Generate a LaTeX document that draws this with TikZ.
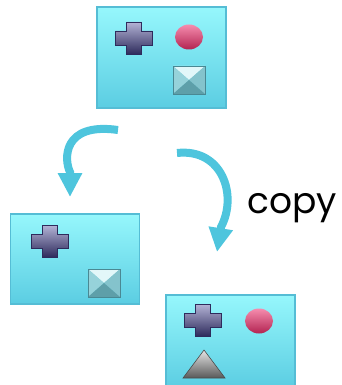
\documentclass[tikz,border=0pt]{standalone}
\usepackage{fontspec}
\setmainfont{Poppins}
\usetikzlibrary{shapes,arrows.meta,backgrounds,positioning}

\definecolor{cardtop}{HTML}{96F7FC}
\definecolor{cardbot}{HTML}{5BCDE2}
\definecolor{cardline}{HTML}{55BDD5}
\definecolor{arrowblue}{HTML}{4EC5DD}
\definecolor{crosslight}{HTML}{B4B4D6}
\definecolor{crossdark}{HTML}{2E2B5C}
\definecolor{ballred}{HTML}{EE2F6C}
\definecolor{tiletop}{HTML}{E2F7F9}
\definecolor{tileleft}{HTML}{96D2DA}
\definecolor{tileright}{HTML}{84C3CC}
\definecolor{tilebot}{HTML}{5E9FA9}
\definecolor{tileline}{HTML}{4A8893}

\tikzset{
  card/.style = {draw=cardline, line width=1.5pt, top color=cardtop, bottom color=cardbot,
                 minimum width=129pt, minimum height=101pt, inner sep=0pt},
  bendarrow/.style = {draw=arrowblue, line width=8pt, -{Triangle[width=23pt,length=24pt]}},
  crossmark/.pic = {
    \shade[top color=crosslight, bottom color=crossdark, draw=crossdark, line width=0.6pt]
      (-7.5,16) -- (7.5,16) -- (7.5,7) -- (18.5,7) -- (18.5,-7) -- (7.5,-7) -- (7.5,-16)
      -- (-7.5,-16) -- (-7.5,-7) -- (-18.5,-7) -- (-18.5,7) -- (-7.5,7) -- cycle;
  },
  ballmark/.pic = {
    \shade[top color=ballred!55!white, middle color=ballred!90!white, bottom color=ballred!75!black]
      (0,0) ellipse [x radius=14, y radius=12.5];
  },
  tilemark/.pic = {
    \fill[tiletop] (-16,14) -- (16,14) -- (0,0) -- cycle;
    \fill[tileleft] (-16,14) -- (0,0) -- (-16,-14) -- cycle;
    \fill[tileright] (16,14) -- (0,0) -- (16,-14) -- cycle;
    \fill[tilebot] (-16,-14) -- (0,0) -- (16,-14) -- cycle;
    \draw[tileline, line width=0.6pt] (-16,-14) rectangle (16,14);
  },
  conemark/.pic = {
    \shade[top color=gray!20, bottom color=gray!70!black, draw=gray!60!black, line width=0.6pt]
      (-21,-14) -- (21,-14) -- (0,14) -- cycle;
  }
}

\begin{document}
\begin{tikzpicture}[x=1pt, y=1pt]
\useasboundingbox (0,0) rectangle (342,-385);

% the three cards
\node [card] (orig) at (161.5,-57.5) {};
\node [card, minimum height=90pt] (clone) at (75,-259) {};
\node [card, minimum height=93pt] (copied) at (230.5,-341.5) {};

% top card
\pic at (134,-38) {crossmark};
\pic at (189,-37) {ballmark};
\pic at (189,-80) {tilemark};

% left card
\pic at (50,-241) {crossmark};
\pic at (104,-283) {tilemark};

% right card
\pic at (203,-320) {crossmark};
\pic at (259,-321) {ballmark};
\pic at (204,-364) {conemark};

% curved arrows
\coordinate (lstart) at (118,-130);
\coordinate (ltip) at (70,-197);
\coordinate (rstart) at (177,-153);
\coordinate (rtip) at (217,-252);
\draw [bendarrow] (lstart) .. controls (62,-122) and (64,-160) .. (70,-172) -- (ltip);
\draw [bendarrow] (rstart) .. controls (222,-148) and (238,-195) .. (221,-227) -- (rtip);

\node [anchor=base, font=\fontsize{36}{36}\selectfont] (copylbl) at (292,-213) {copy};
\end{tikzpicture}
\end{document}
